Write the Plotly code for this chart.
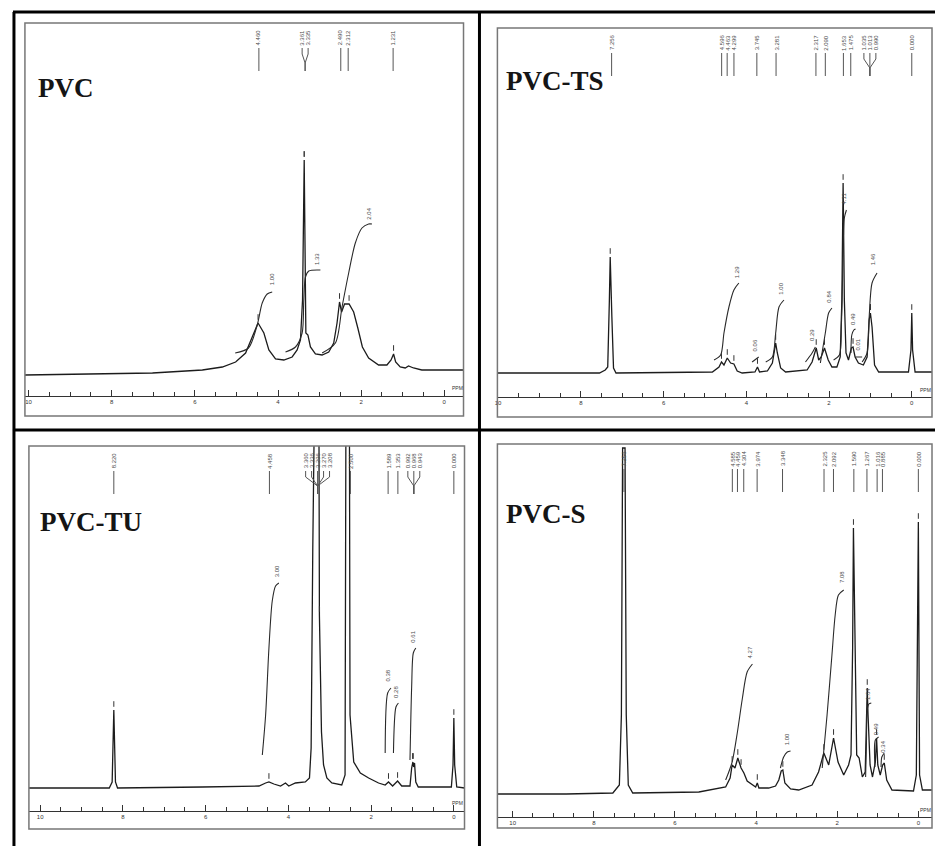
import numpy as np
import plotly.graph_objects as go

W, H = 935, 846

# ======================= DATA =======================
# ---- PVC ----
PVC_PPM = [10.09, 8.22, 7.02, 5.82, 5.34, 5.02, 4.78, 4.62, 4.48, 4.34, 4.22, 4.06, 3.86, 3.66, 3.54, 3.46,
           3.41, 3.37, 3.35, 3.33, 3.28, 3.22, 3.10, 2.94, 2.78, 2.66, 2.58, 2.52, 2.47, 2.40, 2.29, 2.18,
           2.08, 1.97, 1.82, 1.58, 1.38, 1.28, 1.22, 1.17, 1.06, 0.94, 0.86, 0.74, 0.54, -0.49]
PVC_INT = [0, 1, 2, 5, 8, 13, 22, 38, 52, 42, 25, 16, 15, 18, 25, 35,
           75, 215, 142, 42, 40, 28, 21, 20, 23, 32, 52, 73, 63, 71, 71, 63,
           47, 28, 17, 10, 10, 15, 21, 13, 8, 7, 9, 7, 5, 5]
PVC_INTEG_PPM = [5.03, 4.71, 4.50, 4.38, 4.26, 4.14, None,
                 3.82, 3.58, 3.42, 3.38, 3.34, 3.26, 2.98, None,
                 2.94, 2.62, 2.46, 2.30, 2.14, 1.98, 1.82, 1.74]
PVC_INTEG_H = [22, 27, 50, 72, 81, 83, None,
               23, 28, 42, 75, 98, 104, 105, None,
               22, 32, 68, 102, 132, 147, 151, 151]
PVC_INT_LBL = ["1.00", "1.33", "2.04"]
PVC_INT_LBL_PPM = [4.14, 3.06, 1.82]
PVC_INT_LBL_H = [88, 108, 153]
PVC_PEAKS = [4.460, 3.361, 3.335, 2.490, 2.312, 1.231]

# ---- PVC-TS ----
TS_PPM = [10.02, 7.55, 7.41, 7.35, 7.31, 7.29, 7.25, 7.21, 7.15,
          4.82, 4.66, 4.60, 4.54, 4.46, 4.38, 4.30, 4.22, 4.10,
          3.79, 3.73, 3.68, 3.49, 3.37, 3.32, 3.29, 3.25, 3.17, 3.05,
          2.53, 2.41, 2.31, 2.25, 2.19, 2.11, 2.02, 1.93, 1.81, 1.73,
          1.69, 1.66, 1.63, 1.59, 1.53, 1.46, 1.42, 1.37, 1.29, 1.17,
          1.08, 1.03, 1.00, 0.96, 0.90, 0.80, 0.08, 0.02, 0.00, -0.02,
          -0.08, -0.49]
TS_INT = [0, 0, 3, 6, 73, 116, 56, 5, 0,
          1, 6, 11, 8, 15, 10, 9, 2, 0,
          1, 6, 1, 2, 10, 26, 30, 20, 5, 1,
          3, 11, 25, 13, 16, 25, 13, 6, 6, 16,
          73, 190, 73, 20, 13, 25, 26, 16, 10, 8,
          16, 53, 60, 46, 8, 1, 1, 23, 60, 23,
          1, 1]
TS_INTEG_PPM = [4.78, 4.62, 4.54, 4.42, 4.30, 4.18, None,
                3.86, 3.70, None,
                3.53, 3.37, 3.29, 3.21, 3.09, None,
                2.57, 2.41, 2.33, None,
                2.21, 2.09, 2.01, 1.93, None,
                1.89, 1.75, 1.70, 1.66, 1.63, 1.58, None,
                1.47, 1.45, 1.40, 1.36, None,
                1.37, 1.20, None,
                1.20, 1.08, 1.03, 0.96, 0.84]
TS_INTEG_H = [13, 18, 40, 66, 83, 90, None,
              11, 16, None,
              11, 16, 40, 66, 73, None,
              11, 20, 26, None,
              10, 40, 60, 65, None,
              13, 18, 50, 120, 155, 163, None,
              20, 38, 43, 44, None,
              16, 16, None,
              11, 20, 56, 90, 100]
TS_INT_LBL = ["1.29", "0.06", "1.00", "0.29", "0.84", "4.11", "0.49", "0.01", "1.46"]
TS_INT_LBL_PPM = [4.22, 3.78, 3.17, 2.41, 2.01, 1.65, 1.42, 1.31, 0.93]
TS_INT_LBL_H = [93, 20, 76, 30, 68, 166, 46, 20, 106]
TS_PEAKS = [7.256, 4.596, 4.463, 4.299, 3.745, 3.281, 2.317, 2.090, 1.653, 1.475, 1.035, 1.013, 0.990, 0.000]

# ---- PVC-TU ----
TU_PPM = [10.27, 8.33, 8.26, 8.22, 8.18, 8.13, 6.08, 4.71, 4.55, 4.47,
          4.35, 4.19, 4.07, 3.99, 3.83, 3.59, 3.49, 3.45, 3.41, 3.39,
          3.28, 3.25, 3.20, 3.15, 3.07, 2.95, 2.71, 2.63, 2.59, 2.54,
          2.51, 2.42, 2.26, 2.06, 1.82, 1.66, 1.58, 1.48, 1.36, 1.26,
          1.06, 1.02, 0.99, 0.97, 0.95, 0.92, 0.86, 0.06, 0.02, 0.00,
          -0.02, -0.07, -0.26]
TU_INT = [0, 0, 6, 78, 6, 0, 1, 2, 5, 6,
          4, 2, 5, 2, 5, 6, 10, 40, 240, 700,
          700, 173, 56, 23, 10, 5, 3, 13, 700, 700,
          73, 26, 15, 10, 5, 3, 6, 2, 7, 2,
          2, 20, 26, 21, 25, 6, 1, 1, 23, 70,
          23, 1, 0]
TU_INTEG_PPM = [4.63, 4.55, 4.47, 4.39, 4.31, 4.23, None,
                1.66, 1.60, 1.52, None,
                1.46, 1.40, 1.34, None,
                1.06, 1.02, 0.98, 0.92]
TU_INTEG_H = [33, 73, 140, 187, 202, 205, None,
              35, 95, 100, None,
              35, 81, 85, None,
              28, 101, 135, 140]
TU_INT_LBL = ["3.00", "0.38", "0.28", "0.61"]
TU_INT_LBL_PPM = [4.27, 1.58, 1.40, 0.995]
TU_INT_LBL_H = [209, 105, 88, 143]
TU_PEAKS = [8.220, 4.458, 3.360, 3.336, 3.296, 3.270, 3.208, 2.500, 1.589, 1.353, 0.992, 0.968, 0.943, 0.000]

# ---- PVC-S ----
S_PPM = [10.38, 8.68, 7.53, 7.37, 7.32, 7.29, 7.23, 7.20, 7.15, 7.04,
         5.41, 4.75, 4.64, 4.59, 4.52, 4.45, 4.37, 4.30, 4.22, 4.09,
         4.01, 3.97, 3.93, 3.69, 3.52, 3.44, 3.38, 3.34, 3.29, 3.15,
         2.95, 2.62, 2.46, 2.33, 2.21, 2.09, 1.98, 1.84, 1.72, 1.66,
         1.62, 1.60, 1.56, 1.52, 1.46, 1.38, 1.31, 1.28, 1.26, 1.24,
         1.19, 1.13, 1.06, 1.03, 1.00, 0.94, 0.88, 0.84, 0.78, 0.65,
         0.12, 0.05, 0.00, -0.03, -0.10, -0.34]
S_INT = [0, 0, 1, 9, 79, 346, 346, 79, 9, 1,
         2, 7, 16, 29, 26, 36, 26, 21, 13, 9,
         7, 11, 6, 6, 8, 14, 23, 24, 11, 5,
         4, 9, 22, 41, 29, 56, 32, 19, 29, 39,
         146, 266, 146, 39, 36, 17, 22, 86, 106, 79,
         29, 17, 32, 56, 29, 19, 29, 31, 14, 4,
         3, 19, 272, 19, 4, 4]
S_INTEG_PPM = [4.75, 4.59, 4.46, 4.34, 4.22, 4.09, None,
               3.40, 3.32, 3.23, 3.15, None,
               2.37, 2.25, 2.13, 2.05, 1.97, 1.84, None,
               1.30, 1.28, 1.26, 1.22, 1.16, None,
               1.07, 1.06, 0.98, None,
               0.92, 0.90, 0.84]
S_INTEG_H = [14, 32, 62, 95, 122, 130, None,
             26, 37, 42, 43, None,
             26, 79, 139, 179, 199, 204, None,
             17, 50, 84, 90, 91, None,
             27, 54, 57, None,
             27, 37, 41]
S_INT_LBL = ["4.27", "1.00", "7.08", "1.64", "0.49", "0.34"]
S_INT_LBL_PPM = [4.14, 3.23, 1.88, 1.24, 1.04, 0.88]
S_INT_LBL_H = [134, 47, 209, 92, 57, 39]
S_PEAKS = [7.256, 4.585, 4.459, 4.304, 3.974, 3.348, 2.325, 2.092, 1.590, 1.267, 1.016, 0.885, 0.000]

TITLES = ["PVC", "PVC-TS", "PVC-TU", "PVC-S"]
TICK_VALS = [10, 8, 6, 4, 2, 0]
TICK_TEXT = ["10", "8", "6", "4", "2", "0"]
MINOR_VALS = [i * 0.5 for i in range(21)]

# ======================= LAYOUT (pixel geometry) =======================
PANELS = [
    dict(ppm=PVC_PPM, inten=PVC_INT, ip=PVC_INTEG_PPM, ih=PVC_INTEG_H, lbl=PVC_INT_LBL,
         lp=PVC_INT_LBL_PPM, lh=PVC_INT_LBL_H, peaks=PVC_PEAKS,
         box=(22, 462, 23, 416), zero=442.7, scale=41.7, base=375, ruler=396,
         title_xy=(33, 87.5), ppm_xy=(456, 388)),
    dict(ppm=TS_PPM, inten=TS_INT, ip=TS_INTEG_PPM, ih=TS_INTEG_H, lbl=TS_INT_LBL,
         lp=TS_INT_LBL_PPM, lh=TS_INT_LBL_H, peaks=TS_PEAKS,
         box=(496, 932, 28, 417), zero=911.7, scale=41.5, base=373, ruler=397,
         title_xy=(503, 81), ppm_xy=(925, 390)),
    dict(ppm=TU_PPM, inten=TU_INT, ip=TU_INTEG_PPM, ih=TU_INTEG_H, lbl=TU_INT_LBL,
         lp=TU_INT_LBL_PPM, lh=TU_INT_LBL_H, peaks=TU_PEAKS,
         box=(26, 463, 446, 829), zero=452.3, scale=41.5, base=788, ruler=811,
         title_xy=(35, 521.5), ppm_xy=(456, 803)),
    dict(ppm=S_PPM, inten=S_INT, ip=S_INTEG_PPM, ih=S_INTEG_H, lbl=S_INT_LBL,
         lp=S_INT_LBL_PPM, lh=S_INT_LBL_H, peaks=S_PEAKS,
         box=(496, 932, 444, 828), zero=918.3, scale=40.7, base=794, ruler=817,
         title_xy=(503, 513.5), ppm_xy=(925, 810)),
]

LINE_C = "#1c1c1c"
LABEL_C = "#4a4a4a"
FONT_S = "Liberation Sans"


def px(x):
    return x / W


def py(y):
    return 1 - y / H


def label_geom(peaks, scale, min_gap=4.5, spread=6.0):
    ps = sorted(peaks, reverse=True)
    groups = [[ps[0]]]
    for p in ps[1:]:
        if (groups[-1][-1] - p) * scale < min_gap:
            groups[-1].append(p)
        else:
            groups.append([p])
    res = []
    for g in groups:
        c = float(np.mean(g))
        n = len(g)
        for i, p in enumerate(g):
            lx = c + ((n - 1) / 2 - i) * spread / scale
            res.append((p, lx, c, n > 1))
    return res


fig = go.Figure()
annotations = []
shapes = []
layout_axes = {}

for i, P in enumerate(PANELS):
    s = "" if i == 0 else str(i + 1)
    xr, yr = "x" + s, "y" + s
    L, R, T, B = P["box"]
    base = P["base"]
    sc = P["scale"]
    x_range = [(P["zero"] - L) / sc, (P["zero"] - R) / sc]
    y_range = [-(B - base), base - T]

    # spectrum
    fig.add_trace(go.Scatter(x=P["ppm"], y=P["inten"], mode="lines", xaxis=xr, yaxis=yr,
                             line=dict(color=LINE_C, width=1.3), hoverinfo="skip", showlegend=False))
    # integral curves
    fig.add_trace(go.Scatter(x=P["ip"], y=P["ih"], mode="lines", xaxis=xr, yaxis=yr, connectgaps=False,
                             line=dict(color="#2a2a2a", width=1.1, shape="spline", smoothing=0.8),
                             hoverinfo="skip", showlegend=False))
    # integral labels
    for t, xp, yh in zip(P["lbl"], P["lp"], P["lh"]):
        annotations.append(dict(text=t, x=xp, y=yh, xref=xr, yref=yr, showarrow=False,
                                textangle=-90, xanchor="center", yanchor="bottom",
                                font=dict(family=FONT_S, size=6, color=LABEL_C)))

    # peak labels at top
    hk = lambda k, base=base, T=T: base - (T + k)
    lx_all, ly_all = [], []
    for p, lx, c, grp in label_geom(P["peaks"], sc):
        if grp:
            lx_all += [lx, lx, c, c, None]
            ly_all += [hk(25), hk(31), hk(40), hk(48), None]
        else:
            lx_all += [lx, lx, None]
            ly_all += [hk(25), hk(48), None]
        annotations.append(dict(text=f"{p:.3f}", x=lx, y=hk(24.5), xref=xr, yref=yr, showarrow=False,
                                textangle=-90, xanchor="center", yanchor="bottom",
                                font=dict(family=FONT_S, size=6, color=LABEL_C)))
    fig.add_trace(go.Scatter(x=lx_all, y=ly_all, mode="lines", xaxis=xr, yaxis=yr, connectgaps=False,
                             line=dict(color="#555555", width=1), hoverinfo="skip", showlegend=False))

    # peak pick marks
    arr_p = np.array(P["ppm"], dtype=float)
    arr_h = np.array(P["inten"], dtype=float)
    mx, my = [], []
    for p in P["peaks"]:
        sel = np.abs(arr_p - p) <= 0.07
        if sel.any():
            top = arr_h[sel].max()
            if top + 8 < y_range[1] - 55:
                mx.append(float(arr_p[sel][np.argmax(arr_h[sel])]))
                my.append(top + 6)
    fig.add_trace(go.Scatter(x=mx, y=my, mode="markers", xaxis=xr, yaxis=yr,
                             marker=dict(symbol="line-ns-open", size=4, color="#333333",
                                         line=dict(color="#333333", width=1)),
                             hoverinfo="skip", showlegend=False))

    layout_axes["xaxis" + s] = dict(
        domain=[px(L), px(R)], range=x_range, anchor="free", position=py(P["ruler"]),
        showgrid=False, zeroline=False, showline=True, linecolor="#333", linewidth=1,
        tickmode="array", tickvals=TICK_VALS, ticktext=TICK_TEXT, ticks="inside", ticklen=6,
        tickwidth=1, tickcolor="#333", tickfont=dict(family=FONT_S, size=6, color="#333"),
        minor=dict(tickmode="array", tickvals=MINOR_VALS, ticks="inside", ticklen=4,
                   tickwidth=1, tickcolor="#333", showgrid=False),
        fixedrange=True)
    layout_axes["yaxis" + s] = dict(domain=[py(B), py(T)], range=y_range, anchor=xr, visible=False,
                                    fixedrange=True)

    # inner box
    shapes.append(dict(type="rect", xref="paper", yref="paper", x0=px(L), x1=px(R), y0=py(B), y1=py(T),
                       line=dict(color="#777777", width=1.5)))
    # titles
    tx, ty = P["title_xy"]
    annotations.append(dict(text="<b>" + TITLES[i] + "</b>", x=px(tx), y=py(ty), xref="paper", yref="paper",
                            showarrow=False, xanchor="left", yanchor="middle",
                            font=dict(family="Liberation Serif", size=27, color="#151515")))
    qx, qy = P["ppm_xy"]
    annotations.append(dict(text="PPM", x=px(qx), y=py(qy), xref="paper", yref="paper", showarrow=False,
                            xanchor="center", yanchor="middle",
                            font=dict(family=FONT_S, size=5, color="#333")))

# black frame / dividers
for (x0, y0, x1, y1) in [(10, 12, 935, 12), (11, 12, 11, 846), (478, 12, 478, 846), (10, 430, 935, 430)]:
    shapes.append(dict(type="line", xref="paper", yref="paper", x0=px(x0), y0=py(y0), x1=px(x1), y1=py(y1),
                       line=dict(color="#000000", width=3)))

fig.update_layout(width=W, height=H, autosize=False, margin=dict(l=0, r=0, t=0, b=0),
                  paper_bgcolor="white", plot_bgcolor="white", showlegend=False,
                  annotations=annotations, shapes=shapes, **layout_axes)

fig.write_html("out.html", config={"displayModeBar": False},
               post_script="document.body.style.margin='0';document.body.style.padding='0';"
                           "document.body.style.overflow='hidden';")
